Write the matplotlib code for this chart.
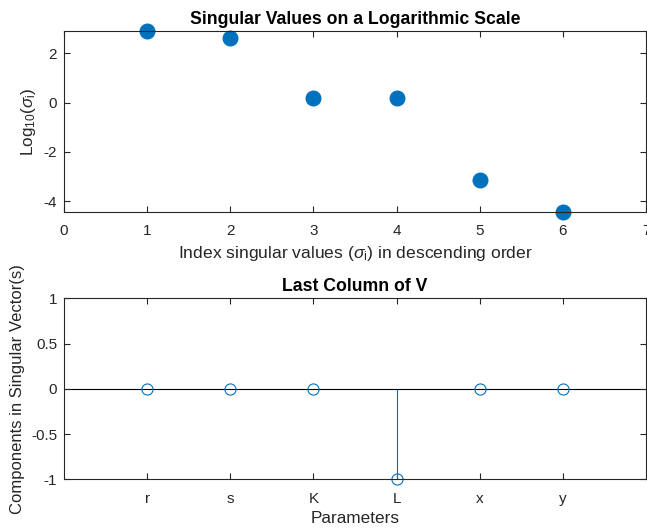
import matplotlib
matplotlib.use("Agg")
import matplotlib.pyplot as plt
import numpy as np

plt.rcParams['font.family'] = ['Liberation Sans', 'DejaVu Sans']
plt.rcParams['mathtext.fontset'] = 'custom'
plt.rcParams['mathtext.rm'] = 'Liberation Sans'
plt.rcParams['mathtext.it'] = 'Liberation Sans:italic'
plt.rcParams['axes.unicode_minus'] = False

# data
sv_index = [1, 2, 3, 4, 5, 6]
log_sigma = [2.90, 2.61, 0.19, 0.19, -3.15, -4.43]
param_names = ['r', 's', 'K', 'L', 'x', 'y']
v_last = [0, 0, 0, -1, 0, 0]

blue = '#0072BD'
axis_col = '#262626'

fig = plt.figure(figsize=(6.47, 5.31), dpi=100)
ax1 = fig.add_axes([0.0989, 0.6008, 0.8995, 0.3409])
ax2 = fig.add_axes([0.0989, 0.0974, 0.8995, 0.3409])

def style(ax):
    for s in ax.spines.values():
        s.set_color(axis_col)
        s.set_linewidth(0.8)
    ax.tick_params(direction='in', top=True, right=True, length=4,
                   width=0.8, colors=axis_col, labelsize=11)
    ax.tick_params(axis='x', pad=9)
    ax.tick_params(axis='y', pad=5)

# top: singular values
ax1.plot(sv_index, log_sigma, 'o', color=blue, markersize=10.5, clip_on=False)
ax1.set_xlim(0, 7)
ax1.set_ylim(min(log_sigma), max(log_sigma))
ax1.set_xticks(range(0, 8))
ax1.set_yticks([-4, -2, 0, 2])
style(ax1)
ax1.set_title('Singular Values on a Logarithmic Scale', fontsize=12.7,
              fontweight='bold', pad=5)
ax1.set_xlabel(r'Index singular values ($\sigma_{\rm i}$) in descending order',
               fontsize=12.6, color=axis_col, labelpad=4)
ax1.set_ylabel(r'Log$_{10}$($\sigma_{\rm i}$)', fontsize=12.3, color=axis_col,
               labelpad=4)

# bottom: last column of V
ax2.axhline(0, color='k', lw=0.8, zorder=1)
ml, sl, bl = ax2.stem(sv_index, v_last, linefmt='-', markerfmt='o', basefmt=' ')
sl.set_color(blue)
sl.set_linewidth(0.8)
ml.set_markerfacecolor('none')
ml.set_markeredgecolor(blue)
ml.set_markersize(8)
ml.set_markeredgewidth(0.8)
ml.set_clip_on(False)
ax2.set_xlim(0, 7)
ax2.set_ylim(-1, 1)
ax2.set_xticks(sv_index)
ax2.set_xticklabels(param_names)
ax2.set_yticks([-1, -0.5, 0, 0.5, 1])
ax2.set_yticklabels(['-1', '-0.5', '0', '0.5', '1'])
style(ax2)
ax2.set_title('Last Column of V', fontsize=12.7, fontweight='bold', pad=5)
ax2.set_xlabel('Parameters', fontsize=12.3, color=axis_col, labelpad=4)
ax2.set_ylabel('Components in Singular Vector(s)', fontsize=12, color=axis_col,
               labelpad=4)

fig.savefig('out.png', dpi=100)
